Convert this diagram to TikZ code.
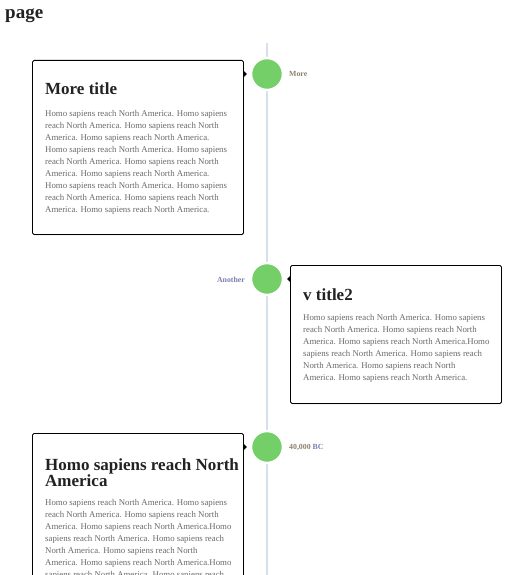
\documentclass[tikz,border=0pt]{standalone}
\usepackage{fontspec}
\setmainfont{Liberation Serif}
\usetikzlibrary{shadows}

\definecolor{dotgreen}{HTML}{74CF69}
\definecolor{axisblue}{HTML}{D4E0EB}
\definecolor{bodygrey}{HTML}{6A6A6A}
\definecolor{titleink}{HTML}{222222}
\definecolor{stampbrown}{HTML}{8E7F6C}
\definecolor{stampblue}{HTML}{7A7FB0}

\tikzset{
  card/.style={rectangle,draw=black,line width=0.9pt,rounded corners=1.5pt,fill=white,
    anchor=north west,minimum width=211pt,inner sep=0pt,
    drop shadow={opacity=0.25,shadow xshift=0.6pt,shadow yshift=-0.9pt}},
  cardtitle/.style={anchor=north west,inner sep=0pt,align=left,text=titleink,
    font=\fontsize{17}{16}\selectfont\bfseries},
  cardtext/.style={anchor=north west,inner sep=0pt,align=left,text=bodygrey,
    font=\fontsize{8.8}{12}\selectfont},
  dot/.style={circle,fill=dotgreen,draw=white,line width=2.5pt,minimum size=32pt,inner sep=0pt,
    drop shadow={opacity=0.12,shadow xshift=0pt,shadow yshift=-0.6pt}},
  stamp/.style={inner sep=0pt,font=\fontsize{7.8}{8}\selectfont\bfseries},
  axis/.style={axisblue,line width=2pt}
}

\begin{document}
\begin{tikzpicture}[x=1pt,y=-1pt]
  \useasboundingbox (0,0) rectangle (529,575);
  \clip (0,0) rectangle (529,575);
  \node[anchor=base west,inner sep=0pt,text=titleink,font=\fontsize{19}{19}\selectfont\bfseries] (head) at (5,19) {page};

  % timeline
  \coordinate (ltop) at (267,43);
  \coordinate (lbot) at (267,575);
  \draw[axis] (ltop) -- (lbot);

  % first entry
  \node[card,minimum height=174pt] (c1) at (32,60) {};
  \node[cardtitle] (t1) at (45,83) {More title};
  \node[cardtext] (p1) at (45,110) {Homo sapiens reach North America. Homo sapiens\\
    reach North America. Homo sapiens reach North\\
    America. Homo sapiens reach North America.\\
    Homo sapiens reach North America. Homo sapiens\\
    reach North America. Homo sapiens reach North\\
    America. Homo sapiens reach North America.\\
    Homo sapiens reach North America. Homo sapiens\\
    reach North America. Homo sapiens reach North\\
    America. Homo sapiens reach North America.};
  \node[dot] (d1) at (267,74) {};
  \node[stamp,anchor=west,text=stampbrown] (s1) at (289,74) {More};
  \fill (c1.east |- d1) +(0,-3) -- +(3,0) -- +(0,3) -- cycle;

  % second entry
  \node[card,minimum height=138pt] (c2) at (290,265) {};
  \node[cardtitle] (t2) at (303,289) {v title2};
  \node[cardtext] (p2) at (303,314) {Homo sapiens reach North America. Homo sapiens\\
    reach North America. Homo sapiens reach North\\
    America. Homo sapiens reach North America.Homo\\
    sapiens reach North America. Homo sapiens reach\\
    North America. Homo sapiens reach North\\
    America. Homo sapiens reach North America.};
  \node[dot] (d2) at (267,279) {};
  \node[stamp,anchor=east,text=stampblue] (s2) at (245,280) {Another};
  \fill (c2.west |- d2) +(0,-3) -- +(-3,0) -- +(0,3) -- cycle;

  % third entry
  \node[card,minimum height=200pt] (c3) at (32,433) {};
  \node[cardtitle] (t3) at (45,458) {Homo sapiens reach North\\America};
  \node[cardtext] (p3) at (45,499) {Homo sapiens reach North America. Homo sapiens\\
    reach North America. Homo sapiens reach North\\
    America. Homo sapiens reach North America.Homo\\
    sapiens reach North America. Homo sapiens reach\\
    North America. Homo sapiens reach North\\
    America. Homo sapiens reach North America.Homo\\
    sapiens reach North America. Homo sapiens reach};
  \node[dot] (d3) at (267,447) {};
  \node[stamp,anchor=west] (s3) at (289,448) {\textcolor{stampbrown}{40,000} \textcolor{stampblue}{BC}};
  \fill (c3.east |- d3) +(0,-3) -- +(3,0) -- +(0,3) -- cycle;
\end{tikzpicture}
\end{document}
